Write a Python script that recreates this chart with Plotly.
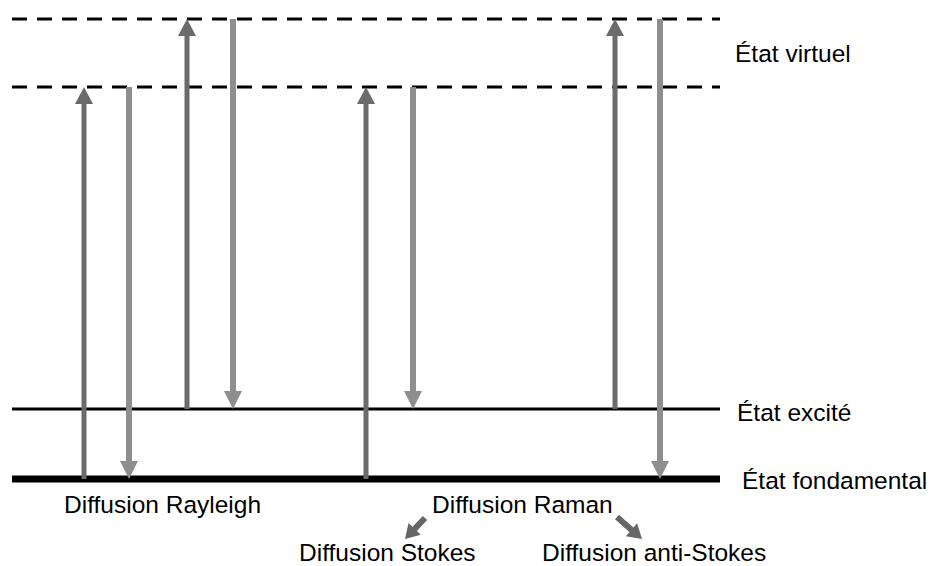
import math
import plotly.graph_objects as go

# ---------------- data ----------------
# energy levels (arbitrary units, ground state = 0)
level_names = ["fondamental", "excite", "virtuel_1", "virtuel_2"]
level_energy = [0, 70, 392, 460]
level_style = ["ground", "excited", "virtual", "virtual"]

# transitions: horizontal position, start level, end level, kind
trans_x = [84, 129, 187, 233, 366, 413, 615, 660]
trans_from = ["fondamental", "virtuel_1", "excite", "virtuel_2",
              "fondamental", "virtuel_1", "excite", "virtuel_2"]
trans_to = ["virtuel_1", "fondamental", "virtuel_2", "excite",
            "virtuel_1", "excite", "virtuel_2", "fondamental"]
trans_kind = ["excitation", "emission", "excitation", "emission",
              "excitation", "emission", "excitation", "emission"]

# level labels (right side)
level_labels = ["État fondamental", "État excité", "État virtuel"]
level_label_levels = ["fondamental", "excite", "virtuel_mid"]

# process labels (below diagram)
proc_labels = ["Diffusion Rayleigh", "Diffusion Raman",
               "Diffusion Stokes", "Diffusion anti-Stokes"]
proc_x = [162, 522, 387, 654]
proc_y = [-25, -25, -73, -73]

# branch arrows from "Diffusion Raman" to its two sub-types (start -> tip)
branch_start_x = [425, 617]
branch_start_y = [-39, -38]
branch_end_x = [405, 642]
branch_end_y = [-60, -60]

# ---------------- helpers ----------------
E = dict(zip(level_names, level_energy))
E["virtuel_mid"] = 425
X0, X1 = 12, 720
FONT = "Liberation Sans, Arial, sans-serif"
FS = 24.5

shapes = []


def add_arrow(x0, y0, x1, y1, color, width, head_len, head_half):
    dx, dy = x1 - x0, y1 - y0
    L = math.hypot(dx, dy)
    ux, uy = dx / L, dy / L
    px, py = -uy, ux
    bx, by = x1 - ux * head_len, y1 - uy * head_len
    sx, sy = x1 - ux * (head_len - 1), y1 - uy * (head_len - 1)
    shapes.append(dict(type="line", xref="x", yref="y", x0=x0, y0=y0, x1=sx, y1=sy,
                       line=dict(color=color, width=width)))
    path = (f"M{x1},{y1} L{bx + px * head_half},{by + py * head_half} "
            f"L{bx - px * head_half},{by - py * head_half} Z")
    shapes.append(dict(type="path", xref="x", yref="y", path=path,
                       fillcolor=color, line=dict(color=color, width=0)))


# level lines
for name, en, st in zip(level_names, level_energy, level_style):
    if st == "ground":
        ln = dict(color="black", width=7)
    elif st == "excited":
        ln = dict(color="black", width=3)
    else:
        ln = dict(color="black", width=3, dash="15px,10px")
    shapes.append(dict(type="line", xref="x", yref="y", x0=X0, x1=X1, y0=en, y1=en, line=ln))

# transitions
for x, a, b, k in zip(trans_x, trans_from, trans_to, trans_kind):
    if k == "excitation":
        add_arrow(x, E[a], x, E[b], "#6b6b6b", 5, 17, 9)
    else:
        add_arrow(x, E[a], x, E[b], "#8e8e8e", 6, 18, 9)

# branch arrows
for sx, sy, ex, ey in zip(branch_start_x, branch_start_y, branch_end_x, branch_end_y):
    add_arrow(sx, sy, ex, ey, "#666666", 6, 14, 8.5)

annotations = []
label_left = [740, 735, 733]
label_dy = [-1, -3, 1]
for t, lv, lx, dy in zip(level_labels, level_label_levels, label_left, label_dy):
    annotations.append(dict(x=lx, y=E[lv] + dy,
                            xref="x", yref="y", text=t,
                            showarrow=False, xanchor="left", yanchor="middle",
                            font=dict(family=FONT, size=FS, color="black")))
for t, x, y in zip(proc_labels, proc_x, proc_y):
    annotations.append(dict(x=x, y=y, xref="x", yref="y", text=t,
                            showarrow=False, xanchor="center", yanchor="middle",
                            font=dict(family=FONT, size=FS, color="black")))

fig = go.Figure()
fig.add_trace(go.Scatter(x=[0], y=[0], mode="markers", marker=dict(opacity=0),
                         hoverinfo="skip", showlegend=False))
fig.update_layout(
    width=932, height=566,
    margin=dict(l=0, r=0, t=0, b=0),
    paper_bgcolor="white", plot_bgcolor="white",
    xaxis=dict(range=[0, 932], visible=False, fixedrange=True),
    yaxis=dict(range=[-87, 479], visible=False, fixedrange=True),
    shapes=shapes, annotations=annotations, showlegend=False,
)
fig.write_html("out.html", config={"displayModeBar": False},
               post_script="document.body.style.margin='0';document.body.style.padding='0';document.body.style.overflow='hidden';")
